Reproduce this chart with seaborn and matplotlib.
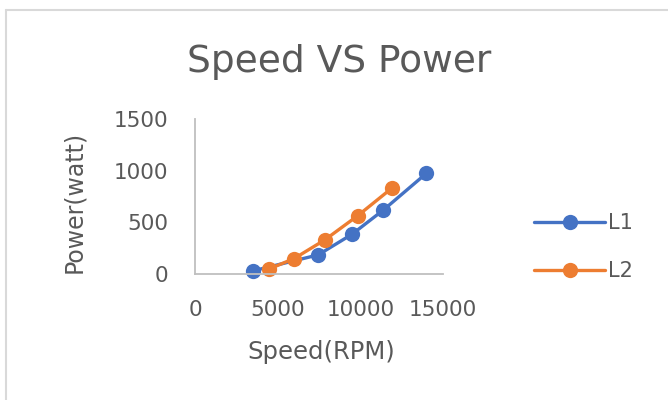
import matplotlib
matplotlib.use("Agg")
import matplotlib.pyplot as plt
import seaborn as sns
import pandas as pd
from matplotlib.lines import Line2D

series_names = ["L1", "L2"]
l1_speed = [3500, 7450, 9500, 11400, 14000]
l1_power = [30, 185, 385, 620, 975]
l2_speed = [4500, 6000, 7850, 9850, 11900]
l2_power = [50, 150, 330, 565, 830]
x_ticks = [0, 5000, 10000, 15000]
y_ticks = [0, 500, 1000, 1500]
title = "Speed VS Power"
x_label = "Speed(RPM)"
y_label = "Power(watt)"

df = pd.concat([
    pd.DataFrame({"Speed": l1_speed, "Power": l1_power, "Series": series_names[0]}),
    pd.DataFrame({"Speed": l2_speed, "Power": l2_power, "Series": series_names[1]}),
], ignore_index=True)

sns.set_theme(style="white")
plt.rcParams["font.family"] = ["DejaVu Sans"]
text_color = "#595959"
palette = {"L1": "#4472C4", "L2": "#ED7D31"}

fig = plt.figure(figsize=(6.68, 4.0), dpi=100)
ax = fig.add_axes([195/668, 126/400, 248/668, 155/400])

sns.lineplot(data=df, x="Speed", y="Power", hue="Series", palette=palette,
             marker="o", markersize=11, markeredgewidth=0, linewidth=2.4,
             sort=False, ax=ax, legend=False)

ax.set_xlim(0, 15000)
ax.set_ylim(0, 1500)
ax.set_xticks(x_ticks)
ax.set_yticks(y_ticks)
ax.set_xticklabels([str(t) for t in x_ticks])
ax.set_yticklabels([str(t) for t in y_ticks])
ax.tick_params(axis="x", length=0, pad=19, labelsize=15.5, labelcolor=text_color)
ax.tick_params(axis="y", length=0, pad=19, labelsize=15.5, labelcolor=text_color)
for s in ["top", "right"]:
    ax.spines[s].set_visible(False)
for s in ["left", "bottom"]:
    ax.spines[s].set_color("#BFBFBF")
    ax.spines[s].set_linewidth(1.3)
ax.patch.set_alpha(0)
for line in ax.lines:
    line.set_clip_on(False)

ax.set_xlabel(x_label, fontsize=17.5, color=text_color, va="center")
ax.set_ylabel(y_label, fontsize=17, color=text_color, va="center")
ax.xaxis.set_label_coords(0.51, -0.505)
ax.yaxis.set_label_coords(-0.488, 0.465)

fig.text(339/668, 1 - 62/400, title, fontsize=27, color=text_color,
         ha="center", va="center")

handles = [Line2D([0], [0], color=palette[n], marker="o", markersize=11,
                  markeredgewidth=0, linewidth=2.4) for n in series_names]
fig.legend(handles, series_names, loc="center left",
           bbox_to_anchor=(524/668, 1 - 247/400), frameon=False,
           fontsize=15, labelcolor=text_color, handlelength=3.4,
           handletextpad=0.15, labelspacing=1.35, borderpad=0)

# chart frame
fig.add_artist(Line2D([6/668, 6/668], [0, 1 - 10/400], transform=fig.transFigure,
                      color="#D9D9D9", linewidth=1.5))
fig.add_artist(Line2D([6/668, 1], [1 - 10/400, 1 - 10/400], transform=fig.transFigure,
                      color="#D9D9D9", linewidth=1.5))

fig.savefig("out.png", dpi=100)
